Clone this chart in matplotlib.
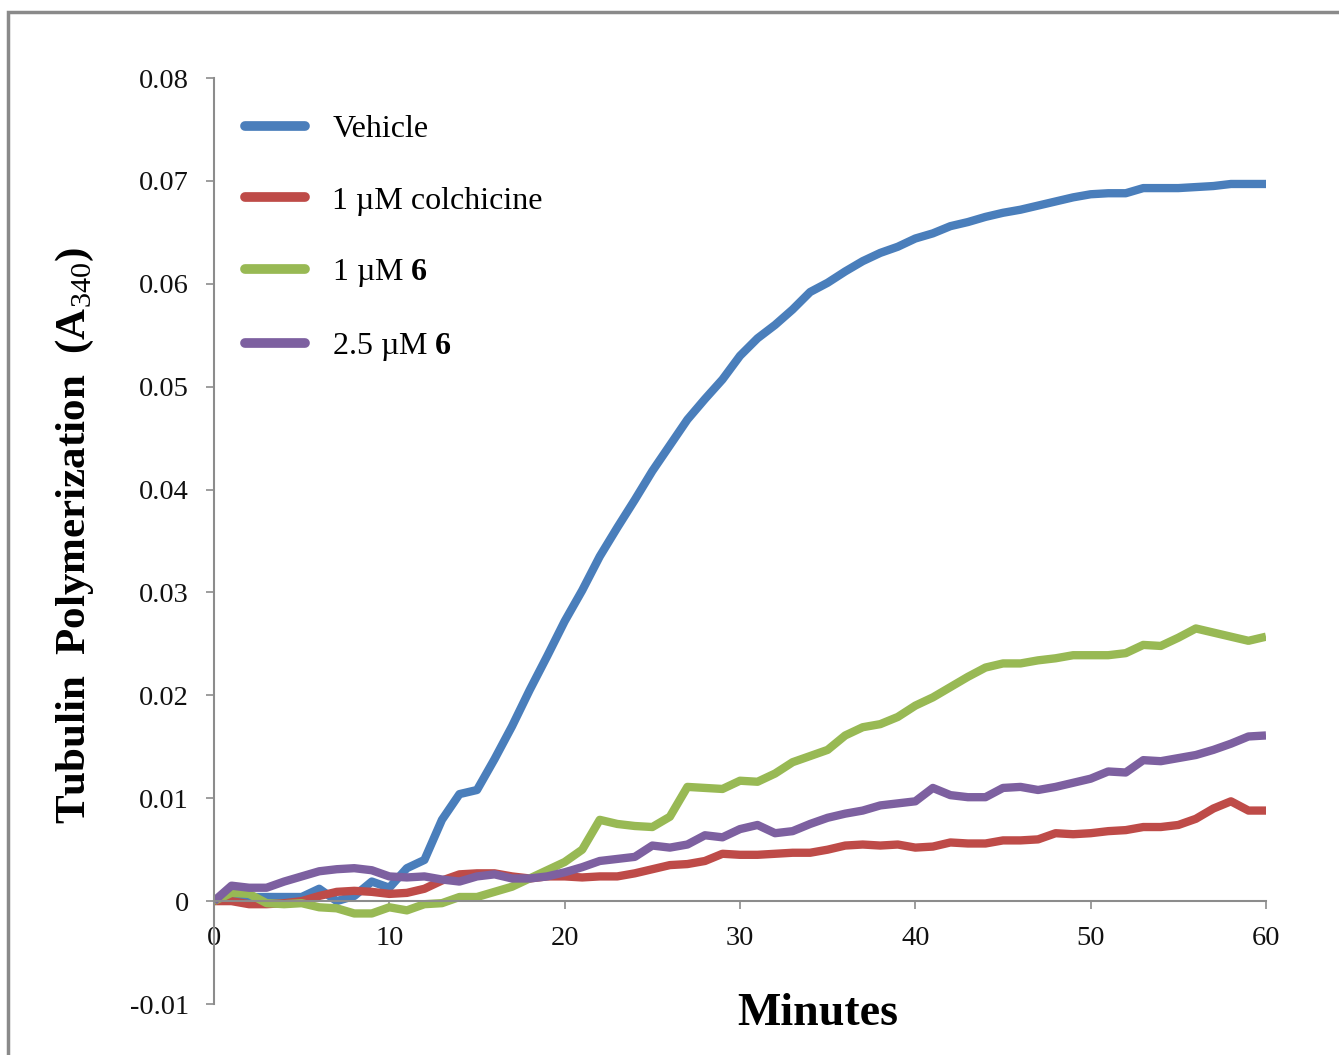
import matplotlib
matplotlib.use("Agg")
import matplotlib.pyplot as plt
from matplotlib.patches import Rectangle
from matplotlib.ticker import FuncFormatter, MultipleLocator

plt.rcParams['font.family'] = ['Liberation Serif', 'DejaVu Serif']
plt.rcParams['mathtext.fontset'] = 'custom'
plt.rcParams['mathtext.rm'] = 'Liberation Serif'
plt.rcParams['mathtext.bf'] = 'Liberation Serif:bold'

minutes = list(range(0, 61))
vehicle = [0, 0.0005, 0.0004, 0.0004, 0.0004, 0.0004, 0.0012, 0.0000, 0.0005, 0.0019, 0.0013,
           0.0032, 0.0040, 0.0079, 0.0104, 0.0108, 0.0138, 0.0170, 0.0205, 0.0238, 0.0272,
           0.0302, 0.0335, 0.0363, 0.0390, 0.0418, 0.0443, 0.0468, 0.0488, 0.0507, 0.0530,
           0.0547, 0.0560, 0.0575, 0.0592, 0.0601, 0.0612, 0.0622, 0.0630, 0.0636, 0.0644,
           0.0649, 0.0656, 0.0660, 0.0665, 0.0669, 0.0672, 0.0676, 0.0680, 0.0684, 0.0687,
           0.0688, 0.0688, 0.0693, 0.0693, 0.0693, 0.0694, 0.0695, 0.0697, 0.0697, 0.0697]
colchicine = [0, 0.0000, -0.0003, -0.0003, -0.0002, 0.0000, 0.0005, 0.0009, 0.0010, 0.0009, 0.0007,
              0.0008, 0.0012, 0.0020, 0.0026, 0.0027, 0.0027, 0.0024, 0.0022, 0.0024, 0.0024,
              0.0023, 0.0024, 0.0024, 0.0027, 0.0031, 0.0035, 0.0036, 0.0039, 0.0046, 0.0045,
              0.0045, 0.0046, 0.0047, 0.0047, 0.0050, 0.0054, 0.0055, 0.0054, 0.0055, 0.0052,
              0.0053, 0.0057, 0.0056, 0.0056, 0.0059, 0.0059, 0.0060, 0.0066, 0.0065, 0.0066,
              0.0068, 0.0069, 0.0072, 0.0072, 0.0074, 0.0080, 0.0090, 0.0097, 0.0088, 0.0088]
cmpd6_1uM = [0, 0.0008, 0.0007, -0.0002, -0.0003, -0.0002, -0.0006, -0.0007, -0.0012, -0.0012, -0.0006,
             -0.0009, -0.0003, -0.0002, 0.0004, 0.0004, 0.0009, 0.0014, 0.0022, 0.0030, 0.0038,
             0.0050, 0.0079, 0.0075, 0.0073, 0.0072, 0.0082, 0.0111, 0.0110, 0.0109, 0.0117,
             0.0116, 0.0124, 0.0135, 0.0141, 0.0147, 0.0161, 0.0169, 0.0172, 0.0179, 0.0190,
             0.0198, 0.0208, 0.0218, 0.0227, 0.0231, 0.0231, 0.0234, 0.0236, 0.0239, 0.0239,
             0.0239, 0.0241, 0.0249, 0.0248, 0.0256, 0.0265, 0.0261, 0.0257, 0.0253, 0.0257]
cmpd6_25uM = [0, 0.0015, 0.0013, 0.0013, 0.0019, 0.0024, 0.0029, 0.0031, 0.0032, 0.0030, 0.0024,
              0.0023, 0.0024, 0.0021, 0.0019, 0.0024, 0.0026, 0.0022, 0.0022, 0.0024, 0.0028,
              0.0033, 0.0039, 0.0041, 0.0043, 0.0054, 0.0052, 0.0055, 0.0064, 0.0062, 0.0070,
              0.0074, 0.0066, 0.0068, 0.0075, 0.0081, 0.0085, 0.0088, 0.0093, 0.0095, 0.0097,
              0.0110, 0.0103, 0.0101, 0.0101, 0.0110, 0.0111, 0.0108, 0.0111, 0.0115, 0.0119,
              0.0126, 0.0125, 0.0137, 0.0136, 0.0139, 0.0142, 0.0147, 0.0153, 0.0160, 0.0161]

labels = ["Vehicle", "1 \u00b5M colchicine", "1 \u00b5M $\\mathbf{6}$", "2.5 \u00b5M $\\mathbf{6}$"]
colors = ["#4A7EBB", "#BE4B48", "#98B954", "#7D60A0"]
series = [vehicle, colchicine, cmpd6_1uM, cmpd6_25uM]

fig = plt.figure(figsize=(13.39, 10.55), dpi=100)
ax = fig.add_axes([214/1339, 1 - 1004/1055, (1266-214)/1339, (1004-78)/1055])

lines = []
for y, c, lab in zip(series, colors, labels):
    ln, = ax.plot(minutes, y, color=c, lw=6, label=lab, solid_joinstyle='round', solid_capstyle='butt')
    lines.append(ln)

ax.set_xlim(0, 60)
ax.set_ylim(-0.01, 0.08)
ax.xaxis.set_major_locator(MultipleLocator(10))
ax.yaxis.set_major_locator(MultipleLocator(0.01))
ax.yaxis.set_major_formatter(FuncFormatter(lambda v, p: "0" if abs(v) < 1e-9 else f"{v:.2f}"))

for s in ['top', 'right']:
    ax.spines[s].set_visible(False)
ax.spines['bottom'].set_position(('data', 0))
ax.spines['left'].set_color('#8c8c8c')
ax.spines['bottom'].set_color('#8c8c8c')
ax.spines['left'].set_linewidth(1.5)
ax.spines['bottom'].set_linewidth(1.5)
ax.tick_params(axis='both', direction='out', length=6, width=1.2, color='#8c8c8c',
               labelsize=20.5, labelcolor='#111111')
ax.tick_params(axis='y', pad=12)
ax.tick_params(axis='x', pad=12)

ax.set_ylabel("Tubulin  Polymerization  (A$_{\\mathrm{340}}$)", fontsize=31, fontweight='bold')
ax.yaxis.set_label_coords(-0.112, 0.506)
ax.set_xlabel("Minutes", fontsize=33, fontweight='bold')
ax.xaxis.set_label_coords(0.574, 0.0115)

leg = ax.legend(handles=lines, loc='upper left', bbox_to_anchor=(0.029, 0.960), frameon=False,
                borderaxespad=0, borderpad=0,
                fontsize=23, handlelength=1.9, handletextpad=0.85, labelspacing=1.31)
for h in leg.get_lines():
    h.set_linewidth(7)
    h.set_solid_capstyle('round')

fig.patches.append(Rectangle((8/1339, -0.1), 1.2, 1 - 12/1055 + 0.1, transform=fig.transFigure,
                             fill=False, edgecolor='#8a8a8a', lw=2.5))

fig.savefig("out.png", dpi=100)
